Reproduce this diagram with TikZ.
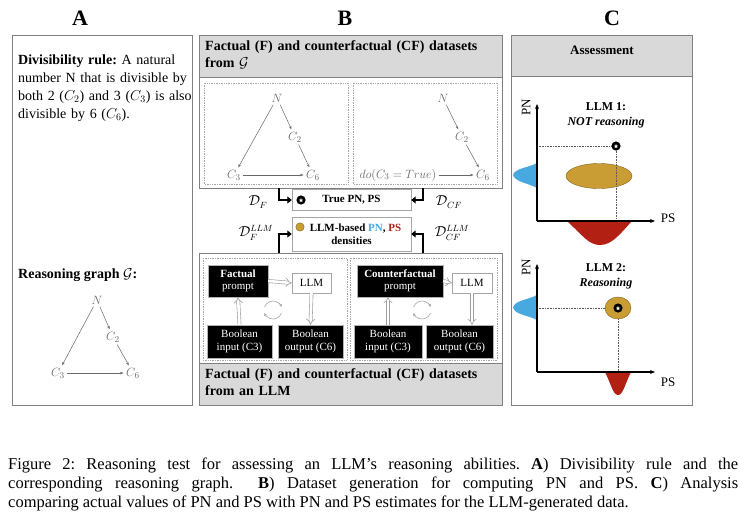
\documentclass[tikz,border=0pt]{standalone}
\usepackage{fontspec}
\setmainfont{Liberation Serif}
\usetikzlibrary{arrows.meta,shapes.geometric}
\frenchspacing
\definecolor{hdr}{RGB}{217,217,217}
\definecolor{frm}{RGB}{128,128,128}
\definecolor{gold}{RGB}{201,157,52}
\definecolor{golddk}{RGB}{130,98,25}
\definecolor{pnblue}{RGB}{72,168,224}
\definecolor{psred}{RGB}{178,32,20}
\definecolor{gtxt}{RGB}{105,105,105}
\tikzset{
  panel/.style={draw=frm, line width=0.8pt},
  plabel/.style={font=\fontsize{22}{24}\selectfont\bfseries},
  gv/.style={text=gtxt, inner sep=1.5pt, font=\fontsize{12.5}{13}\selectfont},
  garr/.style={draw=gtxt, line width=0.5pt, -{Stealth[length=3.5pt,width=2.5pt]}, shorten <=1pt, shorten >=1pt},
  dbox/.style={draw=gray!70, densely dotted, line width=0.7pt},
  bbox/.style={fill=black, draw=gray!60, text=white, align=center, inner sep=0pt, font=\fontsize{11}{12.5}\selectfont},
  wbox/.style={fill=white, draw=gray!70, align=center, inner sep=0pt, font=\fontsize{11}{12.5}\selectfont},
  hollow/.style={draw=gray!75, double=white, double distance=2.6pt, line width=0.6pt, -{Implies[scale=1.3]}},
  thk/.style={line width=2.6pt, -{Triangle[length=4.5pt,width=7pt]}},
  dots/.style={draw=gray!70!black, densely dotted, line width=0.6pt},
  ax/.style={line width=1.3pt, -{Stealth[length=5pt,width=4pt]}},
  cyc/.style={draw=gray!70, line width=0.6pt, -{Stealth[length=3pt,width=3pt]}},
  dlab/.style={inner sep=1pt, font=\fontsize{13.5}{14}\selectfont},
}
\begin{document}
\begin{tikzpicture}[x=1pt,y=-1pt]
\useasboundingbox (0,0) rectangle (746,522);
\fill[white] (0,0) rectangle (746,522);

% panel labels
\node[plabel] (labA) at (80,18) {A};
\node[plabel] (labB) at (345,18) {B};
\node[plabel] (labC) at (612,18) {C};

% ---------------- Panel A
\draw[panel] (12,35) rectangle (192,405);
\node[anchor=north west, inner sep=0pt, text width=176pt, align=left,
      font=\fontsize{14}{17.7}\selectfont] (rule) at (18,55)
  {\textbf{Divisibility rule:} A natural\\ number N that is divisible by\\ both 2 ($C_2$) and 3 ($C_3$) is also\\ divisible by 6 ($C_6$).};
\node[anchor=west, inner sep=0pt, font=\fontsize{14}{16}\selectfont\bfseries] (rg) at (18,275) {Reasoning graph $\mathcal{G}$:};
\node[gv] (aN) at (97,300) {$N$};
\node[gv] (aC2) at (113,337) {$C_2$};
\node[gv] (aC3) at (58,373) {$C_3$};
\node[gv] (aC6) at (133,373) {$C_6$};
\draw[garr] (aN) -- (aC2);
\draw[garr] (aC2) -- (aC6);
\draw[garr] (aN) -- (aC3);
\draw[garr] (aC3) -- (aC6);

% ---------------- Panel B top
\fill[hdr] (199,35) rectangle (502,77);
\draw[panel] (199,35) rectangle (502,188);
\draw[panel] (199,77) -- (502,77);
\node[anchor=north west, inner sep=0pt, text width=292pt, align=left,
      font=\fontsize{14}{17}\selectfont\bfseries] (bhdr) at (205,40)
  {Factual (F) and counterfactual (CF) datasets\\ from $\mathcal{G}$};
\draw[dbox] (204,83) rectangle (348,184);
\draw[dbox] (353,83) rectangle (497,184);
\node[gv] (fN) at (277,98) {$N$};
\node[gv] (fC2) at (295,137) {$C_2$};
\node[gv] (fC3) at (234,175) {$C_3$};
\node[gv] (fC6) at (313,175) {$C_6$};
\draw[garr] (fN) -- (fC2);
\draw[garr] (fC2) -- (fC6);
\draw[garr] (fN) -- (fC3);
\draw[garr] (fC3) -- (fC6);
\node[gv] (cN) at (443,98) {$N$};
\node[gv] (cC2) at (462,137) {$C_2$};
\node[gv, anchor=west] (cC3) at (358,175) {$do(C_3=True)$};
\node[gv] (cC6) at (483,175) {$C_6$};
\draw[garr] (cN) -- (cC2);
\draw[garr] (cC2) -- (cC6);
\draw[garr] (cC3) -- (cC6);

% middle boxes
\node[wbox, minimum width=119pt, minimum height=21pt, font=\fontsize{11}{12.5}\selectfont\bfseries] (true) at (351.5,200) {True PN, PS};
\fill[black] (301,200) circle (4.6pt);
\node[star, star points=5, star point ratio=2.3, fill=white, inner sep=0pt, minimum size=4.6pt] (st1) at (301,200.3) {};
\node[wbox, minimum width=119pt, minimum height=34pt, font=\fontsize{11}{13}\selectfont\bfseries] (dens) at (351.5,234)
  {\hspace*{8pt}LLM-based \textcolor{pnblue}{PN}, \textcolor{psred}{PS}\\densities};
\fill[gold, draw=golddk, line width=0.4pt] (300,227) circle (4.2pt);

\coordinate (tF) at (279,188);
\coordinate (tCF) at (423,188);
\coordinate (bF) at (279,253);
\coordinate (bCF) at (423,253);
\draw[thk] (tF) |- (true.west);
\draw[thk] (tCF) |- (true.east);
\draw[thk] (bF) |- (dens.west);
\draw[thk] (bCF) |- (dens.east);
\node[dlab] (lF) at (258,202) {$\mathcal{D}_F$};
\node[dlab] (lCF) at (449,202) {$\mathcal{D}_{CF}$};
\node[dlab] (lFL) at (256,233) {$\mathcal{D}_F^{LLM}$};
\node[dlab] (lCFL) at (452,233) {$\mathcal{D}_{CF}^{LLM}$};

% ---------------- Panel B bottom
\fill[hdr] (199,363) rectangle (502,405);
\draw[panel] (199,253) rectangle (502,405);
\draw[panel] (199,363) -- (502,363);
\node[anchor=north west, inner sep=0pt, text width=292pt, align=left,
      font=\fontsize{14}{17}\selectfont\bfseries] (bftr) at (205,368)
  {Factual (F) and counterfactual (CF) datasets\\ from an LLM};
\draw[dbox] (203,258) rectangle (347,360);
\draw[dbox] (350,258) rectangle (497,360);

\node[bbox, minimum width=60pt, minimum height=32pt] (fp) at (238,281) {\textbf{Factual}\\prompt};
\node[wbox, minimum width=39pt, minimum height=20pt] (llm1) at (311.5,283) {LLM};
\node[bbox, minimum width=65pt, minimum height=33pt] (bi1) at (239.5,341.5) {Boolean\\input (C3)};
\node[bbox, minimum width=65pt, minimum height=33pt] (bo1) at (310.5,341.5) {Boolean\\output (C6)};
\draw[hollow] (fp.east) -- (llm1.west);
\draw[hollow] (llm1.south) -- (bo1.north);
\draw[hollow] (bi1.north) -- (fp.south);

\node[bbox, minimum width=86pt, minimum height=32pt] (cp) at (400,281) {\textbf{Counterfactual}\\prompt};
\node[wbox, minimum width=40pt, minimum height=20pt] (llm2) at (472,283) {LLM};
\node[bbox, minimum width=68pt, minimum height=33pt] (bi2) at (388,341.5) {Boolean\\input (C3)};
\node[bbox, minimum width=67pt, minimum height=33pt] (bo2) at (459.5,341.5) {Boolean\\output (C6)};
\draw[hollow] (cp.east) -- (llm2.west);
\draw[hollow] (llm2.south) -- (llm2.south |- bo2.north);
\draw[hollow] (bi2.north) -- (bi2.north |- cp.south);

\draw[cyc] (273,310) ++(20:9) arc (20:160:9);
\draw[cyc] (273,310) ++(200:9) arc (200:340:9);
\draw[cyc] (422,310) ++(20:9) arc (20:160:9);
\draw[cyc] (422,310) ++(200:9) arc (200:340:9);

% ---------------- Panel C
\fill[hdr] (511,35) rectangle (692,76);
\draw[panel] (511,35) rectangle (692,405);
\draw[panel] (511,76) -- (692,76);
\node[font=\fontsize{13}{15}\selectfont\bfseries] (assess) at (602,50) {Assessment};

% graph 1
\fill[pnblue] (537,163) .. controls (528,168) and (515,168) .. (513,175) .. controls (515,182) and (528,183) .. (537,188) -- cycle;
\fill[psred] (567,221) .. controls (583,236) and (589,245) .. (600,245) .. controls (612,245) and (620,234) .. (632,221) -- cycle;
\fill[gold, draw=golddk, line width=0.4pt] (599,176) ellipse (33pt and 12.5pt);
\coordinate (o1) at (537,221);
\coordinate (p1) at (616,146);
\draw[dots] (537,146) -- (p1);
\draw[dots] (p1) -- (616,221);
\draw[ax] (o1) -- (537,104);
\draw[ax] (o1) -- (655,221);
\fill[black] (p1) circle (4.6pt);
\node[star, star points=5, star point ratio=2.3, fill=white, inner sep=0pt, minimum size=4.6pt] (st2) at (616,146.3) {};
\node[font=\fontsize{13}{14}\selectfont] (ps1) at (668,218) {PS};
\node[rotate=90, font=\fontsize{13}{14}\selectfont] (pn1) at (526,107) {PN};
\node[align=center, font=\fontsize{12}{15}\selectfont\bfseries] (llm1lab) at (606,115) {LLM 1:\\\textit{NOT reasoning}};

% graph 2
\fill[pnblue] (537,295) .. controls (528,300) and (515,300) .. (513,307.5) .. controls (515,315) and (528,315) .. (537,320) -- cycle;
\fill[psred] (605,372) .. controls (611,384) and (613,395) .. (618,395) .. controls (623,395) and (625,384) .. (631,372) -- cycle;
\coordinate (o2) at (537,372);
\coordinate (p2) at (618,308);
\draw[dots] (537,308) -- (p2);
\draw[dots] (p2) -- (618,372);
\fill[gold, draw=golddk, line width=0.4pt] (p2) ellipse (13pt and 11pt);
\draw[ax] (o2) -- (537,264);
\draw[ax] (o2) -- (655,372);
\fill[black] (p2) circle (4.6pt);
\node[star, star points=5, star point ratio=2.3, fill=white, inner sep=0pt, minimum size=4.6pt] (st3) at (618,308.3) {};
\node[font=\fontsize{13}{14}\selectfont] (ps2) at (668,382) {PS};
\node[rotate=90, font=\fontsize{13}{14}\selectfont] (pn2) at (526,267) {PN};
\node[align=center, font=\fontsize{12}{15}\selectfont\bfseries] (llm2lab) at (606,276) {LLM 2:\\\textit{Reasoning}};

% ---------------- Caption
\node[anchor=north west, inner sep=0pt, text width=730pt, align=justify,
      font=\fontsize{16.5}{18.8}\selectfont] (cap) at (8,458)
  {Figure 2: Reasoning test for assessing an LLM's reasoning abilities. \textbf{A}) Divisibility rule and the\linebreak
   corresponding reasoning graph. \ \textbf{B}) Dataset generation for computing PN and PS. \textbf{C}) Analysis\linebreak
   comparing actual values of PN and PS with PN and PS estimates for the LLM-generated data.};
\end{tikzpicture}
\end{document}
